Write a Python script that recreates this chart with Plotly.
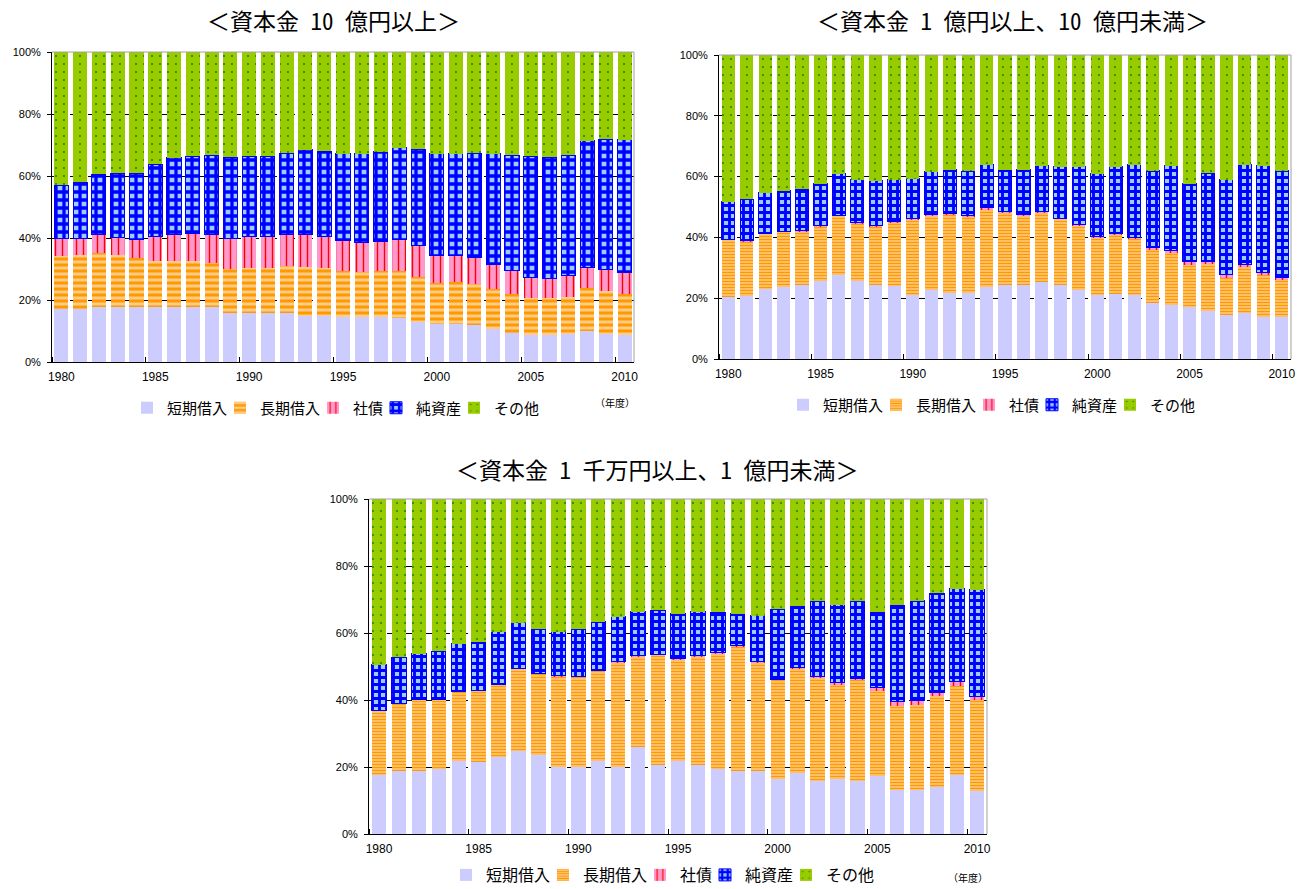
import plotly.graph_objects as go

years = list(range(1980, 2011))
series_names = ["短期借入", "長期借入", "社債", "純資産", "その他"]
x_ticks = [1980, 1985, 1990, 1995, 2000, 2005, 2010]
y_ticks = [0, 20, 40, 60, 80, 100]
y_ticktext = ["0%", "20%", "40%", "60%", "80%", "100%"]

titles = ["＜資本金 10 億円以上＞", "＜資本金 1 億円以上、10 億円未満＞", "＜資本金 1 千万円以上、1 億円未満＞"]
unit_label = "（年度）"

# 資本金10億円以上 (%)
p1_short = [17.1, 17.1, 17.6, 17.9, 17.9, 17.9, 17.9, 17.9, 17.9, 15.8, 15.8, 15.8, 15.8, 15.0, 15.0, 14.4,
            14.4, 14.4, 14.1, 12.8, 12.1, 12.1, 11.9, 10.6, 9.5, 8.7, 8.6, 8.9, 9.9, 8.9, 8.7]
p1_long = [17.1, 17.4, 17.7, 16.6, 15.8, 14.8, 14.8, 14.6, 13.9, 14.1, 14.4, 14.4, 15.2, 15.6, 15.2, 15.1,
           14.5, 14.8, 15.1, 14.7, 13.3, 13.8, 13.4, 12.8, 12.3, 11.8, 11.9, 12.1, 13.9, 14.0, 13.1]
p1_bond = [5.5, 5.5, 5.7, 5.6, 5.8, 7.8, 8.4, 9.0, 9.3, 10.1, 10.3, 10.3, 10.0, 10.4, 10.3, 9.6,
           9.6, 9.6, 10.3, 10.1, 8.9, 8.4, 8.5, 8.0, 7.7, 6.8, 6.4, 6.9, 6.7, 7.0, 7.2]
p1_net = [17.3, 18.0, 19.5, 20.8, 21.4, 23.3, 24.8, 24.9, 25.6, 26.1, 25.9, 25.9, 26.4, 27.5, 27.5, 28.1,
          28.7, 29.0, 29.6, 31.1, 32.9, 32.9, 33.6, 35.8, 37.2, 39.1, 39.2, 38.8, 40.9, 42.0, 42.7]
p1_other = [43.0, 42.0, 39.5, 39.1, 39.1, 36.2, 34.1, 33.6, 33.3, 33.9, 33.6, 33.6, 32.6, 31.5, 32.0, 32.8,
            32.8, 32.2, 30.9, 31.3, 32.8, 32.8, 32.6, 32.8, 33.3, 33.6, 33.9, 33.3, 28.6, 28.1, 28.3]

# 資本金1億円以上、10億円未満 (%)
p2_short = [20.4, 20.6, 23.0, 23.7, 24.4, 25.5, 27.7, 25.8, 24.4, 23.9, 21.1, 22.6, 21.7, 21.7, 23.7, 24.4,
            24.4, 25.3, 24.4, 22.6, 20.9, 21.5, 21.1, 18.4, 17.9, 17.1, 15.7, 14.5, 15.1, 13.7, 13.7]
p2_long = [18.8, 18.2, 18.2, 18.1, 17.7, 18.2, 19.4, 18.9, 19.2, 21.1, 24.9, 24.7, 25.8, 25.2, 25.2, 23.8,
           22.8, 22.9, 21.7, 21.3, 19.2, 19.4, 18.4, 17.3, 16.9, 13.8, 15.5, 12.1, 15.1, 14.2, 12.6]
p2_bond = [0.2, 0.1, 0.2, 0.1, 0.2, 0.2, 0.1, 0.1, 0.3, 0.2, 0.1, 0.2, 0.5, 0.4, 0.9, 0.3,
           0.3, 0.3, 0.2, 0.3, 0.3, 0.3, 0.5, 0.9, 0.9, 1.2, 0.8, 1.1, 0.8, 0.6, 0.6]
p2_net = [12.3, 13.7, 13.3, 13.4, 13.5, 13.7, 13.7, 14.1, 14.7, 13.8, 13.2, 14.1, 14.2, 14.5, 14.1, 13.7,
          14.7, 15.1, 16.9, 19.0, 20.5, 22.0, 23.9, 25.3, 27.8, 25.5, 29.1, 31.3, 32.9, 35.0, 35.0]
p2_other = [48.3, 47.4, 45.3, 44.7, 44.2, 42.4, 39.1, 41.1, 41.4, 41.0, 40.7, 38.4, 37.8, 38.2, 36.1, 37.8,
            37.8, 36.4, 36.8, 36.8, 39.1, 36.8, 36.1, 38.1, 36.5, 42.4, 38.9, 41.0, 36.1, 36.5, 38.1]

# 資本金1千万円以上、1億円未満 (%)
p3_short = [17.7, 18.7, 18.9, 19.5, 21.9, 21.5, 23.1, 24.9, 23.5, 19.9, 20.1, 21.9, 20.1, 26.1, 20.5, 21.9,
            20.7, 19.5, 18.7, 18.9, 16.3, 18.1, 15.7, 16.5, 15.7, 17.2, 13.2, 13.2, 13.9, 17.7, 12.9]
p3_long = [19.1, 20.2, 21.2, 20.6, 20.5, 21.3, 21.5, 24.4, 24.3, 27.2, 26.8, 26.8, 31.1, 26.9, 33.0, 30.3,
           32.3, 34.5, 37.4, 32.3, 29.8, 31.4, 30.9, 28.2, 30.4, 25.6, 24.9, 25.2, 27.2, 26.4, 27.0]
p3_bond = [0.1, 0.1, 0.1, 0.1, 0.1, 0.1, 0.1, 0.1, 0.2, 0.2, 0.1, 0.1, 0.2, 0.2, 0.1, 0.1,
           0.2, 0.2, 0.2, 0.2, 0.1, 0.2, 0.5, 0.5, 0.3, 0.8, 1.4, 1.4, 1.2, 1.4, 1.2]
p3_net = [13.6, 13.8, 13.6, 14.4, 14.3, 14.5, 15.7, 13.6, 13.2, 13.1, 14.2, 14.6, 13.5, 13.2, 13.2, 13.5,
          13.2, 12.0, 9.5, 13.8, 20.9, 18.5, 22.6, 23.3, 23.3, 22.6, 28.8, 29.9, 29.5, 27.7, 31.8]
p3_other = [49.5, 47.2, 46.2, 45.4, 43.2, 42.6, 39.6, 37.0, 38.8, 39.6, 38.8, 36.6, 35.1, 33.6, 33.2, 34.2,
            33.6, 33.8, 34.2, 34.8, 32.9, 31.8, 30.3, 31.5, 30.3, 33.8, 31.7, 30.3, 28.2, 26.8, 27.1]

panels = [
    [p1_short, p1_long, p1_bond, p1_net, p1_other],
    [p2_short, p2_long, p2_bond, p2_net, p2_other],
    [p3_short, p3_long, p3_bond, p3_net, p3_other],
]

W, H = 1309, 889
# plot areas in pixels: (left, top, right, bottom)
areas = [(52, 52, 634, 362), (719, 55, 1291, 359), (369, 499, 987, 834)]
bar_widths = [0.75, 0.71, 0.72]
stripe_sizes = [6, 3, 3]
checker_sizes = [8, 7, 7]

# legend layout per panel: (start x px, center y px, entry widths, font size)
legend_specs = [
    (127, 408, [48, 48, 18, 33, 50], 15),
    (783, 405, [48, 48, 18, 33, 50], 15),
    (446, 875, [52, 52, 20, 36, 52], 16),
]


def styles(k):
    return [
        dict(color="#CCCCFF"),
        dict(color="#FF9900", pattern=dict(shape="-", bgcolor="#FFCC88", fgcolor="#FF9900",
                                           size=stripe_sizes[k], solidity=0.5, fillmode="replace")),
        dict(color="#FF99CC", pattern=dict(shape="|", bgcolor="#FF99CC", fgcolor="#FF0000",
                                           size=7, solidity=0.2, fillmode="replace")),
        dict(color="#0000FF", pattern=dict(shape="+", bgcolor="#99CCFF", fgcolor="#0000FF",
                                           size=checker_sizes[k], solidity=0.65, fillmode="replace"),
             line=dict(color="#0000FF", width=1)),
        dict(color="#99CC00", pattern=dict(shape=".", bgcolor="#99CC00", fgcolor="#008000",
                                           size=8, solidity=0.04, fillmode="replace")),
    ]


fig = go.Figure()
layout = dict(
    width=W, height=H, margin=dict(l=0, r=0, t=0, b=0, pad=0, autoexpand=False),
    paper_bgcolor="white", plot_bgcolor="white",
    barmode="stack", showlegend=True,
    font=dict(family="Liberation Sans, Arial, sans-serif", color="#000000"),
)
shapes = []
annotations = []

for k, data in enumerate(panels):
    l, t, r, b = areas[k]
    sfx = "" if k == 0 else str(k + 1)
    xa, ya = "x" + sfx, "y" + sfx
    lg = "legend" if k == 0 else "legend" + str(k + 1)
    st = styles(k)
    for i, name in enumerate(series_names):
        m = dict(st[i])
        if "line" not in m:
            m["line"] = dict(width=0)
        fig.add_trace(go.Bar(
            x=years, y=data[i], name=name, marker=m, xaxis=xa, yaxis=ya,
            width=bar_widths[k], legend=lg, legendwidth=legend_specs[k][2][i],
            hoverinfo="skip",
        ))
    layout["xaxis" + sfx] = dict(
        domain=[l / W, r / W], anchor=ya, range=[1979.5, 2010.5],
        tickmode="array", tickvals=x_ticks, ticks="", showgrid=False,
        showline=True, linecolor="#000000", linewidth=1, zeroline=False,
        tickfont=dict(size=12, family="Liberation Sans, Arial, sans-serif", color="#000000"),
        ticklabelstandoff=4,
        minor=dict(tickmode="array", tickvals=[v - 0.5 for v in x_ticks], ticks="inside",
                   ticklen=5, tickcolor="#000000", tickwidth=1, showgrid=False),
    )
    layout["yaxis" + sfx] = dict(
        domain=[1 - b / H, 1 - t / H], anchor=xa, range=[0, 100],
        tickmode="array", tickvals=y_ticks, ticktext=y_ticktext,
        ticks="outside", ticklen=4, tickcolor="#000000",
        showgrid=True, gridcolor="#000000", griddash="dash", gridwidth=1,
        showline=True, linecolor="#000000", linewidth=1, zeroline=False,
        tickfont=dict(size=11, family="Liberation Sans, Arial, sans-serif", color="#000000"),
        ticklabelstandoff=4,
    )
    # gray frame on top and right
    shapes.append(dict(type="line", xref=xa + " domain", yref=ya + " domain", x0=0, x1=1, y0=1, y1=1,
                       line=dict(color="#A0A0A0", width=1), layer="above"))
    shapes.append(dict(type="line", xref=xa + " domain", yref=ya + " domain", x0=1, x1=1, y0=0, y1=1,
                       line=dict(color="#A0A0A0", width=1), layer="above"))
    lx, ly, _, fs = legend_specs[k]
    layout[lg] = dict(
        orientation="h", x=lx / W, y=1 - ly / H, xanchor="left", yanchor="middle",
        font=dict(size=fs, family="Noto Sans CJK JP", color="#000000"),
        itemwidth=30, bgcolor="rgba(0,0,0,0)", itemclick=False, itemdoubleclick=False,
        traceorder="normal",
    )

title_pos = [(333, 20), (1012, 20), (657, 469)]
title_font = "Noto Sans Mono CJK JP, Noto Sans CJK JP, sans-serif"
for k, (tx, ty) in enumerate(title_pos):
    annotations.append(dict(text=titles[k], x=tx / W, y=1 - ty / H, xref="paper", yref="paper",
                            showarrow=False, xanchor="center", yanchor="middle",
                            font=dict(size=23, family=title_font, color="#000000")))

for (ux, uy) in [(615, 402), (968, 877)]:
    annotations.append(dict(text=unit_label, x=ux / W, y=1 - uy / H, xref="paper", yref="paper",
                            showarrow=False, xanchor="center", yanchor="middle",
                            font=dict(size=10, family="Noto Sans CJK JP", color="#000000")))

layout["shapes"] = shapes
layout["annotations"] = annotations
fig.update_layout(**layout)
fig.write_html("out.html")
